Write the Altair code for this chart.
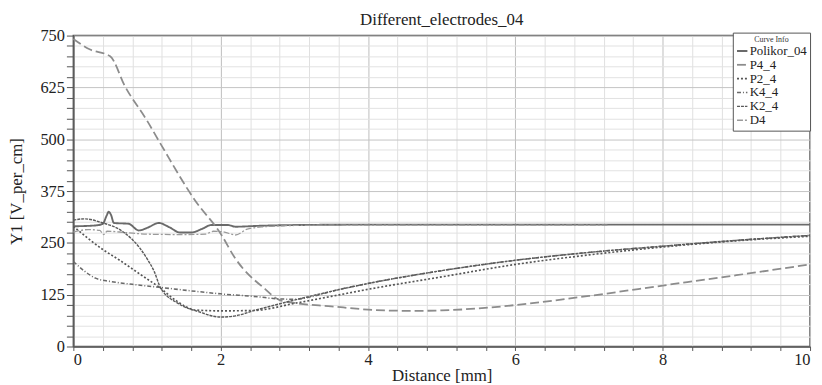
import altair as alt
import pandas as pd

# ---- data ----
series_names = ["Polikor_04", "P4_4", "P2_4", "K4_4", "K2_4", "D4"]

polikor_x = [0, 0.3, 0.40, 0.45, 0.48, 0.51, 0.55, 0.75, 0.89, 1.0, 1.16, 1.3, 1.45, 1.6, 1.75, 1.87, 2.1, 2.2, 2.5, 3, 4, 6, 8, 10]
polikor_y = [290, 292, 296, 315, 325, 318, 298, 296, 280, 286, 298, 288, 275, 275, 284, 293, 293, 289, 291, 293, 294, 294, 294, 294]

p44_x = [0, 0.22, 0.5, 0.7, 1.0, 1.2, 1.65, 2.0, 2.2, 2.6, 2.8, 3.0, 3.5, 4.0, 4.6, 5.0, 5.5, 6, 7, 8, 9, 10]
p44_y = [742, 717, 700, 628, 545, 484, 353, 272, 212, 139, 112, 105, 97, 89, 86, 87, 92, 100, 122, 147, 172, 198]

p24_x = [0, 0.4, 0.63, 0.9, 1.18, 1.4, 1.66, 2.0, 2.46, 3.0, 3.5, 4, 5, 6, 7, 8, 9, 10]
p24_y = [290, 234, 208, 175, 141, 110, 88, 86, 87, 104, 121, 138, 168, 198, 221, 240, 255, 266]

k44_x = [0, 0.15, 0.3, 0.5, 0.8, 1.16, 1.56, 2.0, 2.5, 2.77, 3.0, 3.3, 3.5, 4, 5, 6, 7, 8, 9, 10]
k44_y = [205, 182, 165, 157, 150, 143, 135, 127, 120, 115, 114, 123, 133, 152, 183, 208, 227, 242, 256, 268]

k24_x = [0, 0.15, 0.4, 0.6, 0.8, 0.9, 1.0, 1.1, 1.18, 1.43, 1.7, 2.0, 2.2, 2.46, 3.0, 3.5, 4, 5, 6, 7, 8, 9, 10]
k24_y = [305, 308, 298, 285, 258, 238, 212, 180, 143, 103, 84, 71, 74, 87, 112, 133, 152, 183, 208, 227, 242, 256, 268]

d4_x = [0, 0.2, 0.36, 0.41, 0.46, 0.7, 1.0, 1.5, 1.79, 1.9, 2.05, 2.2, 2.36, 2.6, 2.8, 3.0, 4, 5, 6, 7.25]
d4_y = [276, 282, 280, 270, 278, 275, 271, 270, 271, 278, 276, 269, 283, 289, 291, 292, 293, 293, 293, 293]

x_minor_ticks = [round(k * 0.4, 1) for k in range(0, 26)]
y_minor_ticks = list(range(0, 751, 25))

rows = []
for name, xs, ys in [("Polikor_04", polikor_x, polikor_y), ("P4_4", p44_x, p44_y),
                     ("P2_4", p24_x, p24_y), ("K4_4", k44_x, k44_y),
                     ("K2_4", k24_x, k24_y), ("D4", d4_x, d4_y)]:
    for i, (xv, yv) in enumerate(zip(xs, ys)):
        rows.append({"series": name, "x": xv, "y": yv, "order": i})
df = pd.DataFrame(rows)

FONT = "Liberation Serif"
dashes = [[1, 0], [9, 4], [2, 2], [4, 2, 1, 2], [3, 1], [6, 2, 2, 2]]
grays = ["#6a6a6a", "#8c8c8c", "#555555", "#6a6a6a", "#5a5a5a", "#9a9a9a"]
widths = [1.9, 1.3, 1.5, 1.4, 1.5, 1.3]

even_test = "abs(datum.value/2 - round(datum.value/2)) < 0.001"

x_axis = alt.Axis(
    values=x_minor_ticks, title="Distance [mm]", format="~g",
    labelExpr=f"{even_test} ? datum.label : ''",
    gridColor={"condition": {"test": even_test, "value": "#bdbdbd"}, "value": "#e0e0e0"},
    tickSize=4, titlePadding=0, labelPadding=1, labelFont=FONT,
)
y_axis = alt.Axis(
    values=y_minor_ticks, title="Y1 [V_per_cm]",
    labelExpr="datum.value % 125 == 0 ? datum.label : ''",
    gridColor={"condition": {"test": "datum.value % 125 == 0", "value": "#c4c4c4"}, "value": "#e2e2e2"},
    tickSize=7, titlePadding=15, labelPadding=2, labelFont=FONT,
)

legend = alt.Legend(
    orient="none", legendX=666, legendY=-3, fillColor="white", strokeColor="#555",
    padding=3, titleFont=FONT, titleFontSize=8, titleFontWeight="normal", titleColor="#333",
    titleAnchor="middle", titlePadding=1, labelFont=FONT, labelFontSize=13, labelColor="#222",
    symbolType="stroke", symbolSize=110, symbolStrokeWidth=1.6, rowPadding=0, labelOffset=1,
    labelLimit=80,
)

chart = alt.Chart(df).mark_line(interpolate="monotone").encode(
    x=alt.X("x:Q", scale=alt.Scale(domain=[0, 10], nice=False, zero=False), axis=x_axis),
    y=alt.Y("y:Q", scale=alt.Scale(domain=[0, 750], nice=False), axis=y_axis),
    order="order:Q",
    color=alt.Color("series:N", scale=alt.Scale(domain=series_names, range=grays), title="Curve Info", legend=legend),
    strokeDash=alt.StrokeDash("series:N", scale=alt.Scale(domain=series_names, range=dashes), title="Curve Info", legend=legend),
    strokeWidth=alt.StrokeWidth("series:N", scale=alt.Scale(domain=series_names, range=widths), legend=None),
).properties(
    width=744, height=314,
    autosize=alt.AutoSizeParams(type="none"),
    padding={"left": 66, "top": 26, "right": 4, "bottom": 37},
    title=alt.TitleParams("Different_electrodes_04", font=FONT, fontSize=17, fontWeight="normal",
                          color="#222", offset=7, dy=8, anchor="middle", frame="group"),
).configure_view(
    stroke="#555", strokeWidth=1.5
).configure_axis(
    labelFont=FONT, labelFontSize=16.5, labelColor="#222", labelOverlap=False,
    titleFont=FONT, titleFontSize=17, titleFontWeight="normal", titleColor="#222",
    tickColor="#555", domainColor="#555", domainWidth=1.5,
)

chart.save("out.html", embed_options={"renderer": "svg", "actions": False})
